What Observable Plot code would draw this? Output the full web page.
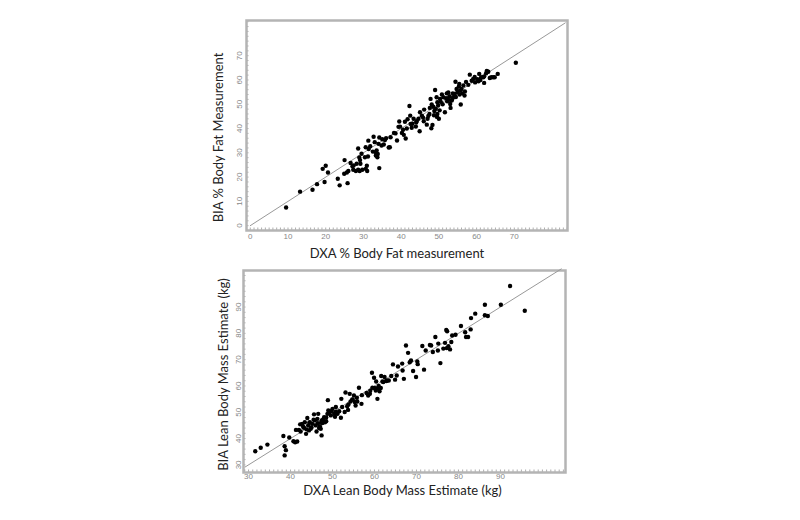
<!DOCTYPE html>
<html><head><meta charset="utf-8">
<script src="https://cdn.jsdelivr.net/npm/d3@7"></script>
<script src="https://cdn.jsdelivr.net/npm/@observablehq/plot@0.6"></script>
<style>
html,body{margin:0;padding:0;background:#fff;}
#wrap{width:800px;height:520px;position:relative;}
#wrap svg{display:block;}
</style></head>
<body><div id="wrap"></div>
<script>
// ---- Panel 1: % body fat ----
const fatTitleX = "DXA % Body Fat measurement";
const fatTitleY = "BIA % Body Fat Measurement";
const fatTicks = [0, 10, 20, 30, 40, 50, 60, 70];
const fatDXA = [9.5,13.2,16.5,17.7,19.2,20,19.7,20.6,23.2,23.7,25,24.9,25.6,25.8,26,26.6,27.1,27.3,27.4,28.2,28.6,28.9,28.6,29.2,29.5,29.7,29.1,30.4,30.6,30.6,30.9,31.2,31.4,31.3,31.8,32.7,33,33.2,33.3,33.5,33.7,34,34.2,34.2,35,35.4,35.7,36.7,37,37.2,38.1,38.9,39.3,39.5,39.7,40.2,40.7,41.2,41.5,41.7,42.2,42.4,42.8,42.5,43.3,43.9,44.1,44.6,44.9,45,45.5,46.1,46.8,47,47.5,47.8,48,48.3,48.1,48.5,48.7,49,49.2,49.4,49.6,49.6,49.8,50,50.3,50.8,51.2,51.6,51.9,52.1,52.2,52.5,52.8,53,53.1,53.4,53.7,53.8,54.2,54.4,54.7,54.9,55.3,55.4,55.6,55.8,56,56.5,56.8,56.9,57.2,58.2,58.7,59.1,59.6,60.2,60.5,60.7,61.2,61.8,62,62.5,62.7,63.1,63.5,63.9,64.4,64.8,65.6,70.4,
  47.6,48.8,49.5,50.5,51,53.5,54.5,55.5,56.2,44,46,43,38.5,36,33.8,32.5,28,29,31,61,62,59.5,57.8,41,47.2,50.2,52.6,45.8,40.5,34.8];
const fatBIA = [7.5,14,14.8,17.1,23.4,24.7,18,21.9,19.3,16.6,27,21.4,21.9,17.5,22.5,25.8,24.5,23,24.8,25.5,31.8,28.1,23,25.5,29.6,23,27,28.2,32.3,23.4,24.7,28.5,31.6,35,32.7,36.6,34.4,30.3,28.9,31,28.2,33.7,23.7,36.3,35.6,33.4,35.3,32.2,32.3,36.4,38.2,35.1,40.7,42.9,40.8,38.2,37.4,35.9,40,43.8,49.3,45.3,40.3,41.9,44,40.8,43,44,38.9,46.7,45.3,47.8,41.6,44,46,52.2,40.1,41.5,49.9,49,45.5,55.9,48.1,52.9,50.8,46,49.5,44,52.2,54,52.9,46.7,52.5,54.5,51.2,54.9,53.3,50.1,48.5,51.5,54.5,52.9,54.2,59.3,56.3,54.9,57.3,58.4,55.6,49.9,56.3,57.7,53.6,55.3,59.2,62.2,59.7,60.4,59,60.3,59.5,62.5,61.1,61.1,58.8,62.7,63.7,63.4,60.8,61.1,61.1,61.1,62.5,67.1,
  48.5,47.2,44.8,51,50,52,53,54,54.5,42.5,43,42,38,36,29.5,30.5,22.5,22.5,22.5,60,61.5,61.2,58,42.8,45.2,47.5,51.8,44.5,39.5,33];

// ---- Panel 2: lean body mass ----
const leanTitleX = "DXA Lean Body Mass Estimate (kg)";
const leanTitleY = "BIA Lean Body Mass Estimate (kg)";
const leanTicks = [30, 40, 50, 60, 70, 80, 90];
const leanDXA = [31.6,32.9,34.5,38.3,38.6,38.9,38.6,39.7,40.7,41.1,41.6,41.3,42,42.4,42.3,42.8,43.2,43.4,43.7,44,44.2,44.4,44.6,44.8,45.2,45.6,45.8,46,46.2,46.4,46.6,46.8,47,47.2,47.4,47.6,47.8,48,48.2,48.5,48.8,49,48.9,49.3,49.6,50,50.4,50.6,50.8,51.2,51.6,52,52.1,52.3,52.9,53.1,53.5,53.7,54.1,54.3,54.7,55.1,55.3,55.5,55.9,56.3,56.9,58.1,58.5,58.9,59.4,59.5,59.9,60,60.3,60.4,60.7,60.8,61.2,61.5,61.6,61.9,62.1,62.4,63,63.4,64,64.4,64.9,65.3,65.6,66.6,66.7,67,67.5,68,68.4,68.7,69.2,69.9,70.2,70.3,71.4,71.8,72.2,73.2,73.5,73.9,74.5,75.1,75.2,75.7,76.4,76.8,77.1,77.3,77.2,77.6,78,78.3,78.5,79.3,80.6,81.6,81.8,82.3,82.9,83,84,86.3,86.3,87,90.1,92.3,95.8,
  43,44.5,45.5,46.5,47.5,48.5,49.8,50.8,53.8,54.8,55.8,57,59,61,62.8,43.8,45,47.3];
const leanBIA = [35.2,36.5,37.7,41,37.1,35.6,33.6,40.4,39,38.6,38.9,43.3,43.3,42.7,45.4,45.6,44.1,46.2,41.8,47.8,45,43.1,46.2,43.7,45.6,49.2,46.9,45,42.7,47.5,49.4,44,44.7,43.7,41.2,45.9,47.1,48.1,46.2,46.6,49.4,50.7,54.6,50.1,48.8,51.3,49.4,48.3,52,49.4,50.4,47.9,55.1,52,50.1,57.5,52.3,50.9,57,54.1,54.9,56.4,53.9,52.6,54.1,59.3,53.2,57.3,56.4,57,65,59.3,63.1,59.2,58.3,61.7,55.1,59.2,58,59.2,63.8,61.7,61.5,63.4,62.1,62.1,63.8,68.2,62.4,64,67.4,68.5,65.9,62.7,75.4,72.6,69,69.7,65.7,63.4,69.3,68.3,75.2,66.2,73.5,75.6,75.4,72.9,78.6,73.5,76.1,68.7,74.2,76.4,81.3,80.8,74.4,75.1,73.9,76.7,79.2,79.5,82.8,80.4,78.6,78.6,81.5,85.8,87.5,90.9,86.9,86.6,90.9,98,88.6,
  44.5,46,47.2,45.8,47,48,50.5,50.2,53,54.8,55.5,56.5,58.2,60,61.9,43.5,44.2,46.2];

const fatData = fatDXA.map((x, i) => ({x, y: fatBIA[i]}));
const leanData = leanDXA.map((x, i) => ({x, y: leanBIA[i]}));

const titleFont = "Lato, 'Open Sans', sans-serif";

function panel({data, ticks, xDomain, yDomain, diag, titleX, titleY, m, tpx, tpy, tdx, tdy, ydx, ydy}) {
  const minorX = d3.range(Math.ceil(xDomain[0]), Math.floor(xDomain[1]) + 1, 1);
  const minorY = d3.range(Math.ceil(yDomain[0]), Math.floor(yDomain[1]) + 1, 2);
  return Plot.plot({
    width: 800, height: 260,
    marginTop: m[0], marginRight: m[1], marginBottom: m[2], marginLeft: m[3],
    style: {fontFamily: "'Liberation Sans', Arial, sans-serif", background: "#fff"},
    x: {domain: xDomain, axis: null},
    y: {domain: yDomain, axis: null},
    marks: [
      Plot.axisX({ticks: minorX, tickSize: -2.5, fill: "none", label: null, stroke: "#999", strokeWidth: 0.8}),
      Plot.axisY({ticks: minorY, tickSize: -2.5, fill: "none", label: null, stroke: "#999", strokeWidth: 0.8}),
      Plot.axisX({ticks, tickSize: 0, tickPadding: tpx, fontSize: 8, fill: "#888", label: null}),
      Plot.axisY({ticks, tickSize: 0, tickPadding: tpy, fontSize: 8, fill: "#888", label: null, rotate: -90, textAnchor: "middle"}),
      Plot.frame({stroke: "#b4b4b4", strokeWidth: 2.5}),
      Plot.line(diag, {x: d => d, y: d => d, stroke: "#999", strokeWidth: 1}),
      Plot.dot(data, {x: "x", y: "y", r: 2.2, fill: "#000", stroke: null}),
      Plot.text([titleX], {text: d => d, frameAnchor: "bottom", textAnchor: "middle", lineAnchor: "middle", dy: tdy, dx: tdx, fontSize: 13, fill: "#222", fontFamily: titleFont}),
      Plot.text([titleY], {text: d => d, frameAnchor: "left", textAnchor: "middle", lineAnchor: "middle", dx: ydx, dy: ydy, rotate: -90, fontSize: 13, fill: "#222", fontFamily: titleFont})
    ]
  });
}

const p1 = panel({
  data: fatData, ticks: fatTicks, xDomain: [-1, 84.1], yDomain: [-2, 84.5], diag: [0, 83.5],
  titleX: fatTitleX, titleY: fatTitleY, m: [20, 233, 30, 246], tpx: 3, tpy: 7,
  tdx: -10, tdy: 23, ydx: -28, ydy: 12
});
const p2 = panel({
  data: leanData, ticks: leanTicks, xDomain: [28.8, 105.5], yDomain: [27.1, 103.9], diag: [29.2, 104.5],
  titleX: leanTitleX, titleY: leanTitleY, m: [10, 235, 48, 243], tpx: 1, tpy: 5,
  tdx: -2, tdy: 18, ydx: -20, ydy: 3
});
document.getElementById("wrap").append(p1, p2);
</script></body></html>
